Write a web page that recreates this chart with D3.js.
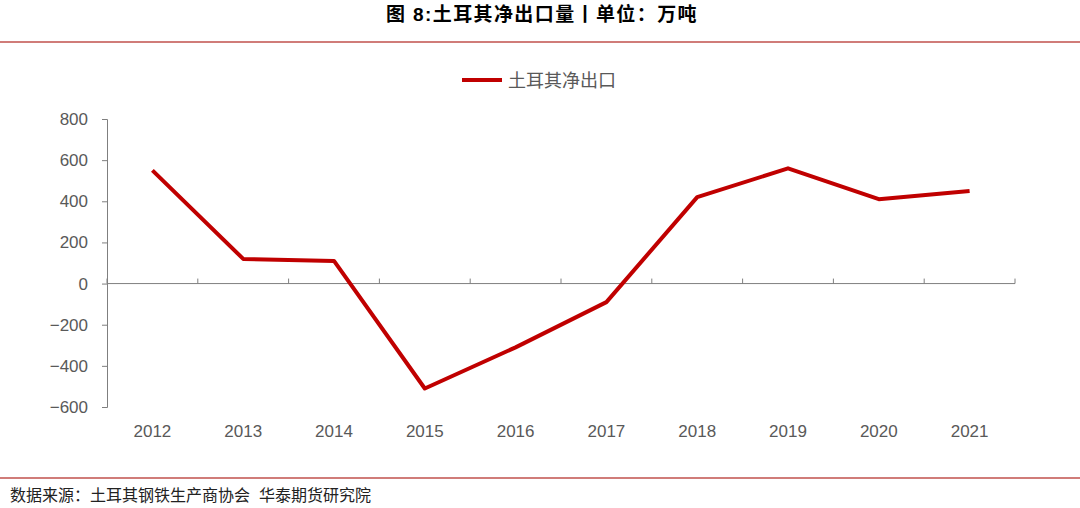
<!DOCTYPE html>
<html><head><meta charset="utf-8">
<script src="https://cdn.jsdelivr.net/npm/d3@7"></script>
<style>body{margin:0;background:#fff}text{font-family:"Liberation Sans","Noto Sans CJK SC",sans-serif}</style>
</head><body><svg width="1080" height="508"></svg>
<script>
var years = ['2012','2013','2014','2015','2016','2017','2018','2019','2020','2021'];
var netExport = [550, 120, 110, -510, -310, -90, 420, 560, 410, 450];
var yTicks = [-600, -400, -200, 0, 200, 400, 600, 800];

var svg = d3.select('svg');
var x = d3.scaleBand().domain(years).range([107, 1015]);
var y = d3.scaleLinear().domain([-600, 800]).range([407, 119]);

svg.append('text').attr('x', 542).attr('y', 21).attr('text-anchor', 'middle')
  .style('font-size', '19px').style('font-weight', 'bold').style('letter-spacing', '1.4px').text('图 8:土耳其净出口量丨单位：万吨');
svg.append('line').attr('x1', 0).attr('x2', 1080).attr('y1', 42).attr('y2', 42).attr('stroke', '#c0504d').attr('stroke-width', 1.5);
svg.append('line').attr('x1', 0).attr('x2', 1080).attr('y1', 478).attr('y2', 478).attr('stroke', '#c0504d').attr('stroke-width', 1.5);
svg.append('text').attr('x', 10).attr('y', 501).style('font-size', '16px').style('white-space', 'pre').attr('fill', '#222')
  .text('数据来源：土耳其钢铁生产商协会\u00a0\u00a0华泰期货研究院');

var yAxis = svg.append('g').attr('transform', 'translate(107,0)')
  .call(d3.axisLeft(y).tickValues(yTicks).tickSize(5).tickPadding(14));
yAxis.selectAll('text').style('font-size', '17px').attr('fill', '#595959');
yAxis.selectAll('line,path').attr('stroke', '#7f7f7f');

var xAxis = svg.append('g').attr('transform', 'translate(0,' + y(0) + ')');
xAxis.append('line').attr('x1', 107).attr('x2', 1015).attr('stroke', '#7f7f7f');
xAxis.selectAll('line.t').data(years.concat(['end'])).enter().append('line')
  .attr('x1', (d, i) => 107 + i * x.bandwidth()).attr('x2', (d, i) => 107 + i * x.bandwidth())
  .attr('y1', 0).attr('y2', -5).attr('stroke', '#7f7f7f');
svg.selectAll('text.xl').data(years).enter().append('text')
  .attr('x', d => x(d) + x.bandwidth() / 2).attr('y', 437).attr('text-anchor', 'middle')
  .style('font-size', '17px').attr('fill', '#595959').text(d => d);

var line = d3.line().x((d, i) => x(years[i]) + x.bandwidth() / 2).y(d => y(d));
svg.append('path').datum(netExport).attr('d', line).attr('fill', 'none')
  .attr('stroke', '#c00000').attr('stroke-width', 4).attr('stroke-linejoin', 'round');

svg.append('line').attr('x1', 462).attr('x2', 502).attr('y1', 80).attr('y2', 80).attr('stroke', '#c00000').attr('stroke-width', 4);
svg.append('text').attr('x', 508).attr('y', 87).style('font-size', '18px').attr('fill', '#595959').text('土耳其净出口');
</script></body></html>
